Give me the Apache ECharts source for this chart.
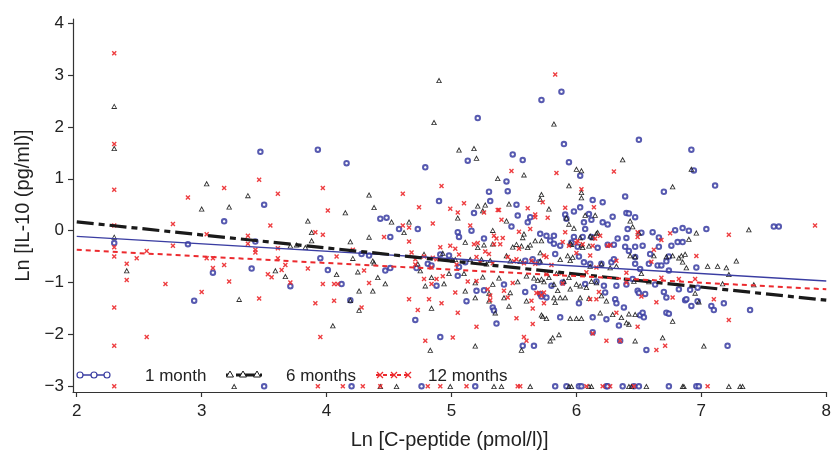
<!DOCTYPE html>
<html><head><meta charset="utf-8">
<script src="https://cdn.jsdelivr.net/npm/echarts@6/dist/echarts.min.js"></script>
<style>html,body{margin:0;padding:0;background:#fff}#c{width:834px;height:455px}</style>
</head><body><div id="c"></div>
<script>
const xTicks = [2, 3, 4, 5, 6, 7, 8];
const yTicks = [-3, -2, -1, 0, 1, 2, 3, 4];
const seriesNames = ['1 month', '6 months', '12 months'];

const oneMonth = [
[2.30,-0.24],[2.89,-0.26],[2.94,-1.35],[3.09,-0.81],[3.18,0.18],[3.40,-0.73],[3.43,-0.21],[3.47,1.52],[3.50,0.50],[3.71,-1.07],
[3.93,1.56],[3.95,-0.53],[4.01,-0.76],[4.12,-1.03],[4.16,1.30],[4.19,-1.34],[4.28,-0.45],[4.34,-0.48],[4.43,0.23],[4.47,-0.77],[4.48,0.25],[4.51,-0.12],[4.51,-0.72],
[4.58,0.03],[4.71,-1.72],[4.72,-0.72],[4.73,0.03],[4.79,1.22],[4.81,-0.64],[4.84,-0.67],[4.88,-1.06],[4.90,0.57],[4.91,-0.46],[4.91,-2.05],[4.98,-0.48],
[5.05,-0.03],[5.05,-0.87],[5.06,-0.12],[5.06,-0.70],[5.11,-0.61],[5.12,-1.36],[5.13,1.35],[5.16,0.00],[5.18,0.34],[5.20,-1.16],[5.21,2.17],[5.26,-0.15],[5.26,-1.15],[5.30,0.75],[5.31,0.57],[5.33,-1.48],[5.34,-1.54],[5.36,-1.79],
[5.42,-1.04],[5.44,0.95],[5.45,0.76],[5.48,0.08],[5.49,1.47],[5.52,0.50],[5.53,0.29],[5.57,1.36],[5.57,-2.22],[5.59,-0.58],[5.59,-1.18],[5.61,0.16],[5.63,0.26],[5.65,-0.55],[5.66,-1.09],[5.66,-2.22],
[5.70,-0.61],[5.71,-0.06],[5.71,-1.22],[5.72,2.52],[5.72,-1.27],[5.76,-0.10],[5.76,-1.29],[5.79,-0.19],[5.80,-1.06],[5.82,-0.10],[5.82,-0.25],[5.83,-0.45],[5.87,-0.29],[5.87,-1.67],[5.88,2.68],[5.89,-1.00],
[5.90,1.67],[5.91,0.31],[5.92,0.23],[5.94,1.32],[5.96,-0.23],[5.98,0.37],[5.98,-0.12],[6.01,-0.31],[6.02,-0.50],[6.02,-1.40],[6.03,0.45],[6.03,1.06],[6.05,-0.12],[6.06,0.16],[6.06,-0.61],[6.07,0.03],[6.07,-1.03],[6.10,0.32],[6.11,-0.64],[6.12,0.21],[6.12,-0.12],[6.13,0.59],[6.13,-1.67],[6.13,-1.96],[6.16,-0.98],[6.17,-0.33],
[6.20,-0.64],[6.21,0.55],[6.21,0.16],[6.22,-1.06],[6.23,-1.19],[6.24,-1.71],[6.25,0.12],[6.25,-0.27],[6.28,-0.61],[6.29,0.27],[6.30,-0.27],[6.30,-0.55],[6.31,-1.32],[6.32,-1.06],[6.32,-1.40],[6.33,-0.15],[6.34,-1.83],[6.35,-2.12],[6.38,-1.48],[6.39,0.66],[6.39,-0.31],
[6.40,0.34],[6.40,-0.14],[6.40,-1.04],[6.41,0.03],[6.42,0.33],[6.42,-0.39],[6.45,-0.93],[6.47,0.26],[6.47,-0.31],[6.47,-0.51],[6.47,-0.64],[6.49,-1.16],[6.50,1.75],[6.50,-1.20],[6.51,-0.74],[6.51,-1.63],[6.52,-0.04],[6.53,-0.29],[6.53,-1.58],[6.54,-1.67],[6.55,-1.22],[6.56,-2.30],[6.58,-0.64],[6.59,-0.45],[6.61,-0.03],[6.63,-1.04],[6.65,-0.67],[6.66,-0.13],[6.66,-0.31],[6.68,-0.67],
[6.70,0.75],[6.70,-1.18],[6.72,-0.59],[6.72,-1.29],[6.72,-1.58],[6.74,-0.50],[6.74,-0.77],[6.74,-1.60],[6.76,-0.29],[6.79,0.01],[6.81,-0.22],[6.82,-1.13],[6.85,0.05],[6.85,-0.22],[6.87,-1.34],[6.88,-1.32],[6.90,0.00],[6.91,-1.14],[6.92,1.56],[6.92,-1.45],[6.94,1.16],[6.96,-0.71],[6.97,-1.10],[6.97,-1.36],
[7.04,0.03],[7.08,-1.45],[7.10,-1.53],[7.11,0.87],[7.18,-1.40],[7.21,-2.22],[7.39,-1.53],[7.58,0.08],[7.62,0.08],
[3.50,-3],[4.20,-3],[4.76,-3],[5.19,-3],[5.83,-3],[5.92,-3],[6.02,-3],[6.04,-3],[6.24,-3],[6.25,-3],[6.37,-3],[6.46,-3],[6.50,-3],[6.74,-3],[6.96,-3],[6.98,-3]
];

const sixMonths = [
[2.30,2.40],[2.30,1.59],[2.30,-0.12],[2.40,-0.77],[3.00,0.42],[3.04,0.91],[3.22,0.46],[3.30,-1.32],[3.37,0.68],[3.59,-0.77],[3.67,-0.88],[3.71,-0.29],[3.76,-0.27],
[3.83,-0.32],[3.85,0.19],[3.88,-0.03],[3.88,-0.19],[4.05,-1.83],[4.08,-0.84],[4.15,0.35],[4.19,-0.21],[4.19,-1.34],[4.21,-0.53],[4.25,-0.79],[4.26,-1.16],[4.26,-1.53],[4.34,0.69],[4.34,-0.12],[4.37,-0.58],[4.37,-1.16],[4.38,0.45],[4.38,-0.62],[4.41,-0.90],[4.47,-1.02],[4.52,0.17],[4.62,-0.03],[4.66,0.17],[4.73,-0.64],[4.75,-0.77],[4.78,-0.45],[4.79,-1.06],[4.83,-2.30],[4.84,-0.90],[4.84,-1.49],[4.86,2.09],[4.90,2.90],[4.93,-0.43],[4.94,-1.02],[4.98,-0.82],[5.01,-0.56],
[5.03,-0.55],[5.05,0.25],[5.06,1.56],[5.10,-0.82],[5.11,-0.22],[5.11,-1.16],[5.15,-0.55],[5.18,1.59],[5.19,-1.00],[5.19,-1.29],[5.19,-2.22],[5.20,1.40],[5.21,0.48],[5.21,-0.32],[5.24,-0.55],[5.25,0.39],[5.25,-0.89],[5.26,-0.27],[5.27,0.50],[5.28,-0.64],[5.30,-1.20],[5.30,-1.35],[5.31,-0.57],[5.33,0.01],[5.33,-0.25],[5.33,-1.03],[5.35,-1.58],[5.37,1.01],[5.38,-0.91],[5.42,-1.29],[5.44,0.19],[5.44,-0.48],[5.46,0.52],[5.46,-1.45],[5.47,-0.58],[5.47,-1.19],[5.49,-0.31],[5.52,-0.26],[5.53,-0.98],[5.55,-0.59],[5.56,-0.29],[5.56,-2.30],[5.57,-0.13],[5.58,-0.06],[5.58,1.08],[5.60,-0.87],[5.60,-1.35],[5.61,-0.32],[5.63,-0.27],[5.66,-0.91],[5.67,-0.19],[5.69,-0.95],
[5.71,0.61],[5.71,-0.42],[5.71,-0.58],[5.72,0.70],[5.72,-0.19],[5.72,-0.93],[5.72,-1.62],[5.73,-1.65],[5.74,-0.98],[5.76,-1.69],[5.78,0.42],[5.78,-0.90],[5.79,-2.12],[5.81,-2.06],[5.82,2.06],[5.82,-1.03],[5.82,-1.29],[5.83,-1.38],[5.84,-0.82],[5.85,-1.15],[5.86,-2.00],[5.87,-0.55],[5.87,-1.29],[5.90,-0.97],[5.91,-1.29],[5.92,0.25],[5.93,-0.48],[5.94,0.13],[5.94,0.87],[5.94,-0.90],[5.95,-0.24],[5.95,-0.57],[5.95,-1.12],[5.95,-1.69],[5.96,-0.26],[5.97,-0.51],[5.98,0.05],
[6.00,1.19],[6.00,-1.03],[6.00,-1.69],[6.03,-0.13],[6.03,-1.06],[6.03,-1.29],[6.04,0.74],[6.04,0.64],[6.04,1.16],[6.04,-0.27],[6.04,-1.69],[6.05,-0.32],[6.07,0.30],[6.08,-1.09],[6.10,-0.29],[6.10,-1.30],[6.11,-0.10],[6.11,-0.68],[6.12,-0.97],[6.13,-0.13],[6.15,0.30],[6.16,-0.05],[6.16,-1.00],[6.17,-0.03],[6.19,-1.58],[6.20,-0.64],[6.20,-1.25],[6.24,-1.35],[6.27,-0.71],[6.29,-1.61],[6.32,-0.68],[6.36,-1.67],[6.37,1.37],
[6.40,-1.77],[6.42,-1.60],[6.42,-1.80],[6.43,0.19],[6.43,-0.48],[6.45,0.08],[6.46,-0.97],[6.47,-0.50],[6.47,-1.61],[6.47,-2.12],[6.50,-0.04],[6.52,-0.82],[6.58,-0.98],[6.62,-0.48],[6.69,-2.06],[6.72,-0.50],[6.77,0.85],[6.77,-0.48],[6.77,-1.74],[6.82,-0.52],[6.84,-0.48],[6.85,-0.60],[6.87,-0.45],[6.88,-0.71],[6.90,-0.16],[6.92,1.19],[6.95,-1.20],[6.96,-0.04],[6.98,-1.37],
[7.02,-2.22],[7.05,-0.68],[7.13,-0.68],[7.17,-1.02],[7.20,-0.71],[7.22,-0.84],[7.28,-0.58],[7.38,0.02],[7.42,-1.04],
[3.26,-3],[4.43,-3],[4.56,-3],[4.99,-3],[5.34,-3],[5.40,-3],[5.63,-3],[5.94,-3],[5.96,-3],[6.10,-3],[6.12,-3],[6.42,-3],[6.44,-3],[6.56,-3],[6.85,-3],[6.86,-3],[7.22,-3],[7.31,-3],[7.33,-3]
];

const twelveMonths = [
[2.30,3.42],[2.30,1.67],[2.30,0.79],[2.30,0.10],[2.30,-0.32],[2.30,-0.50],[2.30,-1.48],[2.30,-2.22],[2.40,-0.64],[2.40,-0.95],[2.48,-0.53],[2.56,-0.39],[2.56,-2.05],[2.71,-1.03],[2.77,0.13],[2.77,-0.29],[2.89,0.64],[3.00,-1.18],[3.04,-0.07],[3.04,-0.53],[3.09,-0.53],[3.09,-0.72],[3.18,0.82],[3.18,-0.66],[3.22,-0.98],[3.37,-0.10],[3.37,-0.25],[3.43,-0.37],[3.43,-0.42],[3.46,0.98],[3.46,-1.31],[3.53,-0.84],[3.55,0.10],[3.56,-0.90],[3.61,0.71],[3.61,-0.34],[3.61,-0.53],[3.64,-0.76],[3.67,-0.66],[3.71,-1.00],
[3.85,-0.73],[3.91,-0.03],[3.91,-1.40],[3.95,-2.05],[3.97,0.82],[3.97,-0.08],[3.97,-1.03],[4.01,0.39],[4.06,-1.03],[4.06,-1.35],[4.08,-0.50],[4.09,-1.03],[4.21,-0.37],[4.28,-1.48],[4.30,-0.77],[4.34,-1.01],[4.46,-0.12],[4.61,0.71],[4.61,0.10],[4.66,0.06],[4.66,-0.21],[4.66,-1.32],[4.68,-0.42],[4.71,-0.55],[4.71,-0.65],[4.73,-1.53],[4.74,0.45],[4.78,-0.50],[4.78,-0.93],[4.79,-2.12],[4.82,-1.32],[4.84,-0.71],[4.84,-1.03],[4.85,0.14],[4.85,-0.52],[4.88,-0.55],[4.88,-0.93],[4.91,-0.32],[4.92,0.86],[4.92,-1.40],[4.93,-0.88],[4.99,0.42],[4.99,-0.29],
[5.01,-2.06],[5.03,-0.35],[5.03,-1.19],[5.04,-0.65],[5.05,0.35],[5.05,-1.58],[5.06,-0.46],[5.10,0.53],[5.13,-0.98],[5.15,0.10],[5.18,-0.26],[5.20,-0.51],[5.20,-0.97],[5.20,-1.85],[5.21,-0.24],[5.23,-0.61],[5.26,0.35],[5.27,-0.40],[5.29,-1.13],[5.30,-0.45],[5.31,-1.25],[5.31,-1.34],[5.33,-0.63],[5.34,-0.10],[5.34,-0.26],[5.36,-0.15],[5.37,0.40],[5.38,0.40],[5.39,-0.26],[5.40,0.21],[5.41,-0.14],[5.42,-1.16],[5.45,-0.51],[5.45,-1.29],[5.48,1.15],[5.49,-1.01],[5.50,-0.59],[5.52,-0.55],[5.52,-1.69],[5.54,-0.02],[5.54,-0.35],[5.58,-0.63],[5.58,-2.05],[5.60,-2.12],[5.61,0.43],[5.63,0.03],[5.64,-0.58],[5.64,-1.35],[5.65,-1.50],[5.65,-1.80],[5.67,0.31],[5.67,0.26],[5.67,-0.64],[5.68,-1.20],
[5.70,-1.20],[5.72,-1.25],[5.73,0.55],[5.74,-0.48],[5.74,-1.19],[5.74,-1.40],[5.76,-0.51],[5.76,-0.84],[5.77,0.25],[5.80,-0.66],[5.83,3.01],[5.84,1.11],[5.88,-0.82],[5.89,-0.22],[5.89,-1.02],[5.91,0.44],[5.91,-0.03],[5.94,-0.29],
[6.00,-0.24],[6.00,-0.43],[6.01,-0.20],[6.04,0.80],[6.05,-0.26],[6.08,-0.80],[6.11,-0.48],[6.11,-1.32],[6.13,-0.29],[6.13,-1.98],[6.14,0.45],[6.15,-0.15],[6.16,-0.71],[6.16,-1.32],[6.18,-1.18],[6.19,-0.10],[6.24,-2.12],[6.25,-0.29],[6.27,-0.28],[6.30,1.14],[6.32,-0.58],[6.32,-1.58],[6.35,-2.12],
[6.40,-0.81],[6.40,-1.00],[6.49,-0.03],[6.49,-0.12],[6.49,-1.85],[6.52,-1.27],[6.60,-0.60],[6.62,-0.37],[6.64,-1.38],[6.64,-2.30],[6.68,-0.18],[6.68,-0.91],[6.71,-2.22],[6.75,-0.05],[6.77,-1.29],[6.82,-0.93],[6.95,-0.93],[6.96,-0.49],
[7.10,-1.32],[7.22,-0.08],[7.22,-1.72],[7.91,0.10],
[2.30,-3],[3.93,-3],[4.13,-3],[4.29,-3],[4.43,-3],[4.81,-3],[4.91,-3],[5.12,-3],[5.53,-3],[5.55,-3],[6.08,-3],[6.21,-3],[6.27,-3],[6.46,-3],[7.05,-3]
];

const fitOneMonth = [[2, -0.11], [8, -0.97]];
const fitSixMonths = [[2, 0.17], [8, -1.34]];
const fitTwelveMonths = [[2, -0.37], [8, -1.13]];

const BLUE = '#3a3da2', BLACK = '#1a1a1a', RED = '#ec2a2e';
const FONT = 'Liberation Sans, Arial, sans-serif';
const CROSS = 'path://M0,2L2,0L5,3L8,0L10,2L7,5L10,8L8,10L5,7L2,10L0,8L3,5Z';
const HOLLOW_TRI = 'path://M5,0L10,9L0,9ZM5,3.2L2.3,7.7L7.7,7.7Z';
const fmt = v => String(v).replace('-', '\u2212');

const chart = echarts.init(document.getElementById('c'), null, {renderer: 'canvas'});

const legendY = 375;
const g = [];
function textEl(x, s) {
  g.push({type: 'text', x: x, y: legendY + 1, z: 100,
    style: {text: s, fontSize: 17, fontFamily: FONT, fill: '#222', verticalAlign: 'middle', align: 'left'}});
}
g.push({type: 'line', z: 100, shape: {x1: 77, y1: legendY, x2: 109, y2: legendY}, style: {stroke: BLUE, lineWidth: 1.5}});
[80, 94, 107].forEach(cx => g.push({type: 'circle', z: 101, shape: {cx: cx, cy: legendY, r: 3}, style: {fill: '#fff', stroke: BLUE, lineWidth: 1.2}}));
textEl(145, seriesNames[0]);
g.push({type: 'line', z: 100, shape: {x1: 226, y1: legendY, x2: 262, y2: legendY}, style: {stroke: BLACK, lineWidth: 3, lineDash: [4, 6, 22, 2]}});
[230, 243, 257].forEach(cx => g.push({type: 'polygon', z: 101, shape: {points: [[cx, legendY - 4], [cx + 3.5, legendY + 2], [cx - 3.5, legendY + 2]]}, style: {fill: '#fff', stroke: BLACK, lineWidth: 1}}));
textEl(286, seriesNames[1]);
g.push({type: 'line', z: 100, shape: {x1: 376, y1: legendY, x2: 411, y2: legendY}, style: {stroke: RED, lineWidth: 2, lineDash: [4, 3]}});
[380, 394, 408].forEach(cx => {
  g.push({type: 'line', z: 101, shape: {x1: cx - 3, y1: legendY - 3, x2: cx + 3, y2: legendY + 3}, style: {stroke: RED, lineWidth: 1.3}});
  g.push({type: 'line', z: 101, shape: {x1: cx - 3, y1: legendY + 3, x2: cx + 3, y2: legendY - 3}, style: {stroke: RED, lineWidth: 1.3}});
});
textEl(428, seriesNames[2]);

const option = {
  animation: false,
  backgroundColor: '#fff',
  grid: {left: 73, right: 3, top: 19, bottom: 63},
  xAxis: {
    type: 'value', min: 1.97, max: 8,
    name: 'Ln [C-peptide (pmol/l)]', nameLocation: 'middle', nameGap: 38,
    nameTextStyle: {fontSize: 20, fontFamily: FONT, color: '#222'},
    axisLine: {show: true, onZero: false, lineStyle: {color: '#333', width: 1.2}},
    axisTick: {show: true, customValues: xTicks, length: 5, lineStyle: {color: '#333', width: 1.2}},
    axisLabel: {customValues: xTicks, fontSize: 17, fontFamily: FONT, color: '#222', margin: 11, formatter: fmt},
    splitLine: {show: false}
  },
  yAxis: {
    type: 'value', min: -3.11, max: 4.08,
    name: 'Ln [IL-10 (pg/ml)]', nameLocation: 'middle', nameGap: 40, nameRotate: 90,
    nameTextStyle: {fontSize: 20, fontFamily: FONT, color: '#222'},
    axisLine: {show: true, onZero: false, lineStyle: {color: '#333', width: 1.2}},
    axisTick: {show: true, customValues: yTicks, length: 5, lineStyle: {color: '#333', width: 1.2}},
    axisLabel: {customValues: yTicks, fontSize: 17, fontFamily: FONT, color: '#222', margin: 9, formatter: fmt},
    splitLine: {show: false}
  },
  graphic: g,
  series: [
    {name: seriesNames[0], type: 'scatter', data: oneMonth, symbol: 'emptyCircle', symbolSize: 4.5,
      itemStyle: {color: BLUE, borderColor: BLUE, borderWidth: 0.75, opacity: 0.85}},
    {name: seriesNames[1], type: 'scatter', data: sixMonths, symbol: HOLLOW_TRI, symbolSize: [6, 5.5],
      itemStyle: {color: BLACK, opacity: 0.9}},
    {name: seriesNames[2], type: 'scatter', data: twelveMonths, symbol: CROSS, symbolSize: 5,
      itemStyle: {color: RED, opacity: 0.9}},
    {name: seriesNames[0] + ' fit', type: 'line', data: fitOneMonth, showSymbol: false, symbol: 'none', z: 5,
      lineStyle: {color: BLUE, width: 1.4}},
    {name: seriesNames[1] + ' fit', type: 'line', data: fitSixMonths, showSymbol: false, symbol: 'none', z: 5,
      lineStyle: {color: BLACK, width: 3.2, type: [17, 5, 6, 5]}},
    {name: seriesNames[2] + ' fit', type: 'line', data: fitTwelveMonths, showSymbol: false, symbol: 'none', z: 5,
      lineStyle: {color: RED, width: 2, type: [5, 4]}}
  ]
};
chart.setOption(option);
</script>
</body></html>
